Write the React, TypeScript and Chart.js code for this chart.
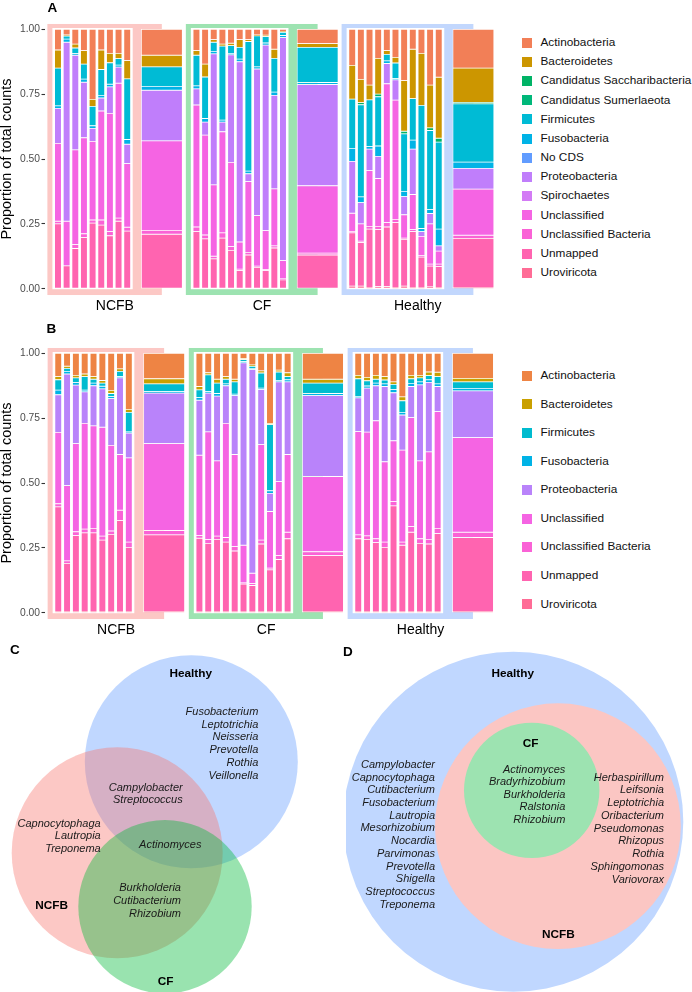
import React, { useEffect, useRef, useState } from 'react';
import { Chart, registerables } from 'chart.js';

Chart.register(...registerables);

const FONT = '"Liberation Sans", Arial, Helvetica, sans-serif';
const PAGE_W = 692;
const PAGE_H = 992;

// ---------------- shared ----------------
const GROUPS = ['NCFB', 'CF', 'Healthy'];
const GROUP_FILLS = ['#FCC8C5', '#9DE3B1', '#C2D7FD'];
const Y_TICKS = [0, 0.25, 0.5, 0.75, 1];
const Y_TITLE = 'Proportion of total counts';

// ---------------- panel A ----------------
// bar order: NCFB samples x9, NCFB pooled, CF samples x11, CF pooled, Healthy samples x11, Healthy pooled
const A_GROUP_SIZES = [9, 11, 11];
const A_PHYLA = [
  'Actinobacteria', 'Bacteroidetes', 'Candidatus Saccharibacteria', 'Candidatus Sumerlaeota',
  'Firmicutes', 'Fusobacteria', 'No CDS', 'Proteobacteria', 'Spirochaetes', 'Unclassified',
  'Unclassified Bacteria', 'Unmapped', 'Uroviricota',
];
const A_COLORS = [
  '#F27F57', '#CC9600', '#00B366', '#00B87A', '#00BBD5', '#00B3E6', '#619CFF',
  '#C07EFB', '#D37BF5', '#F564E3', '#FA62D6', '#FF64B0', '#FF6C96',
];
const A_ACTINOBACTERIA = [0.08, 0.022, 0.057, 0.082, 0.27, 0.08, 0.093, 0.093, 0.121, 0.1,
  0.082, 0.134, 0.04, 0.057, 0.054, 0.04, 0.04, 0.022, 0.023, 0.077, 0.008, 0.055,
  0.139, 0.193, 0.215, 0.112, 0.082, 0.108, 0.198, 0.077, 0.093, 0.215, 0.185, 0.15];
const A_BACTEROIDETES = [0.07, 0.004, 0.015, 0.052, 0.027, 0.075, 0.036, 0.02, 0.07, 0.045,
  0.018, 0.05, 0.01, 0.008, 0.009, 0.03, 0.007, 0.003, 0.005, 0.035, 0.004, 0.015,
  0.13, 0.09, 0.057, 0.138, 0.015, 0.022, 0.195, 0.19, 0.2, 0.165, 0.235, 0.132];
const A_SACCHARIBACTERIA = [0, 0, 0, 0, 0, 0, 0, 0, 0, 0,
  0, 0, 0, 0, 0, 0, 0, 0, 0, 0, 0, 0,
  0, 0.008, 0, 0.01, 0, 0, 0.01, 0, 0, 0.01, 0.015, 0.005];
const A_SUMERLAEOTA = [0, 0, 0, 0, 0, 0, 0, 0, 0, 0,
  0, 0, 0, 0, 0, 0, 0, 0, 0, 0, 0, 0,
  0, 0, 0, 0, 0, 0, 0, 0, 0, 0, 0, 0];
const A_FIRMICUTES = [0.145, 0.012, 0.022, 0.058, 0.075, 0.1, 0.083, 0.025, 0.234, 0.075,
  0.118, 0.16, 0.035, 0.285, 0.03, 0.045, 0.5, 0.12, 0.025, 0.13, 0.012, 0.135,
  0.19, 0.355, 0.18, 0.19, 0.025, 0.06, 0.222, 0.16, 0.475, 0.305, 0.335, 0.225];
const A_FUSOBACTERIA = [0.01, 0.012, 0.006, 0.012, 0.01, 0.01, 0.01, 0.008, 0.018, 0.015,
  0.012, 0.014, 0.01, 0.008, 0.005, 0.01, 0.01, 0.008, 0.008, 0.013, 0.008, 0.008,
  0.05, 0.022, 0.01, 0.04, 0.01, 0.005, 0.02, 0.035, 0.012, 0.015, 0.065, 0.024];
const A_NO_CDS = [0, 0, 0, 0, 0, 0, 0, 0, 0, 0,
  0, 0, 0, 0, 0, 0, 0, 0, 0, 0, 0, 0,
  0, 0, 0, 0, 0, 0, 0, 0, 0, 0, 0, 0];
const A_PROTEOBACTERIA = [0.135, 0.69, 0.365, 0.214, 0.05, 0.05, 0.102, 0.062, 0.075, 0.195,
  0.062, 0.05, 0.505, 0.037, 0.415, 0.695, 0.03, 0.565, 0.715, 0.36, 0.86, 0.39,
  0.2, 0.082, 0.083, 0.085, 0.078, 0.078, 0.07, 0.175, 0.018, 0.04, 0.02, 0.08];
const A_SPIROCHAETES = [0, 0, 0, 0, 0, 0, 0, 0, 0, 0,
  0, 0, 0, 0, 0, 0, 0, 0, 0, 0, 0, 0,
  0, 0, 0, 0, 0, 0, 0, 0, 0, 0, 0, 0];
const A_UNCLASSIFIED = [0.3, 0.172, 0.365, 0.37, 0.303, 0.42, 0.456, 0.52, 0.245, 0.345,
  0.47, 0.385, 0.275, 0.39, 0.325, 0.105, 0.273, 0.195, 0.15, 0.22, 0.07, 0.26,
  0.07, 0.067, 0.215, 0.185, 0.535, 0.46, 0.09, 0.135, 0.075, 0.155, 0.05, 0.178];
const A_UNCLASSIFIED_BACTERIA = [0.01, 0, 0.015, 0.015, 0.012, 0.02, 0.016, 0.012, 0.015, 0.015,
  0.018, 0.015, 0.01, 0.02, 0.014, 0.005, 0.01, 0.005, 0.004, 0.008, 0.004, 0.007,
  0.006, 0.005, 0.01, 0.012, 0.017, 0.012, 0.005, 0.008, 0.005, 0.008, 0.01, 0.012];
const A_UNMAPPED = [0.25, 0.088, 0.155, 0.197, 0.253, 0.245, 0.204, 0.26, 0.222, 0.21,
  0.22, 0.192, 0.115, 0.195, 0.148, 0.07, 0.13, 0.082, 0.07, 0.157, 0.034, 0.13,
  0.205, 0.168, 0.225, 0.22, 0.23, 0.25, 0.18, 0.215, 0.117, 0.08, 0.08, 0.19];
const A_UROVIRICOTA = [0, 0, 0, 0, 0, 0, 0, 0, 0, 0,
  0, 0, 0, 0, 0, 0, 0, 0, 0, 0, 0, 0,
  0.01, 0.01, 0.005, 0.008, 0.008, 0.005, 0.01, 0.005, 0.005, 0.007, 0.005, 0.004];
const A_SERIES = [A_ACTINOBACTERIA, A_BACTEROIDETES, A_SACCHARIBACTERIA, A_SUMERLAEOTA,
  A_FIRMICUTES, A_FUSOBACTERIA, A_NO_CDS, A_PROTEOBACTERIA, A_SPIROCHAETES, A_UNCLASSIFIED,
  A_UNCLASSIFIED_BACTERIA, A_UNMAPPED, A_UROVIRICOTA];

// ---------------- panel B ----------------
// bar order: NCFB x9, NCFB pooled, CF x11, CF pooled, Healthy x10, Healthy pooled
const B_GROUP_SIZES = [9, 11, 10];
const B_PHYLA = ['Actinobacteria', 'Bacteroidetes', 'Firmicutes', 'Fusobacteria', 'Proteobacteria',
  'Unclassified', 'Unclassified Bacteria', 'Unmapped', 'Uroviricota'];
const B_COLORS = ['#EE8444', '#C9A000', '#00BBCF', '#00B3E6', '#B983FA', '#F564E3', '#FA62D6', '#FF64B0', '#FF6C96'];
const B_ACTINOBACTERIA = [0.09, 0.05, 0.085, 0.08, 0.09, 0.105, 0.143, 0.06, 0.216, 0.098,
  0.128, 0.075, 0.1, 0.09, 0.1, 0.02, 0.045, 0.068, 0.27, 0.065, 0.075, 0.1,
  0.085, 0.093, 0.085, 0.09, 0.11, 0.168, 0.085, 0.085, 0.072, 0.073, 0.097];
const B_BACTEROIDETES = [0.012, 0.008, 0.01, 0.01, 0.01, 0.01, 0.012, 0.01, 0.012, 0.02,
  0.013, 0.008, 0.015, 0.01, 0.01, 0.004, 0.005, 0.008, 0.005, 0.007, 0.015, 0.015,
  0.013, 0.013, 0.015, 0.013, 0.01, 0.015, 0.013, 0.01, 0.014, 0.017, 0.013];
const B_FIRMICUTES = [0.04, 0.012, 0.018, 0.052, 0.015, 0.012, 0.012, 0.02, 0.075, 0.03,
  0.03, 0.065, 0.04, 0.018, 0.048, 0.008, 0.008, 0.058, 0.255, 0.033, 0.012, 0.04,
  0.068, 0.02, 0.015, 0.015, 0.02, 0.045, 0.018, 0.015, 0.016, 0.028, 0.025];
const B_FUSOBACTERIA = [0.018, 0.01, 0.01, 0.007, 0.01, 0.01, 0.008, 0.005, 0.005, 0.005,
  0.01, 0.005, 0.01, 0.007, 0.005, 0.005, 0.005, 0.006, 0.01, 0.005, 0.008, 0.008,
  0.006, 0.008, 0.01, 0.01, 0.012, 0.01, 0.012, 0.012, 0.01, 0.01, 0.01];
const B_PROTEOBACTERIA = [0.145, 0.43, 0.225, 0.121, 0.155, 0.148, 0.18, 0.295, 0.095, 0.195,
  0.212, 0.15, 0.25, 0.145, 0.227, 0.703, 0.785, 0.212, 0.07, 0.385, 0.28, 0.312,
  0.13, 0.17, 0.135, 0.29, 0.185, 0.135, 0.12, 0.293, 0.268, 0.097, 0.18];
const B_UNCLASSIFIED = [0.275, 0.29, 0.34, 0.408, 0.395, 0.42, 0.33, 0.215, 0.325, 0.335,
  0.31, 0.415, 0.29, 0.44, 0.355, 0.145, 0.04, 0.368, 0.218, 0.285, 0.3, 0.29,
  0.398, 0.4, 0.455, 0.31, 0.235, 0.355, 0.42, 0.3, 0.337, 0.45, 0.365];
const B_UNCLASSIFIED_BACTERIA = [0.012, 0.01, 0.015, 0.014, 0.017, 0.015, 0.013, 0.04, 0.02, 0.017,
  0.01, 0.015, 0.012, 0.018, 0.017, 0.005, 0.007, 0.015, 0.007, 0.015, 0.025, 0.015,
  0.015, 0.013, 0.015, 0.02, 0.016, 0.012, 0.022, 0.018, 0.018, 0.02, 0.02];
const B_UNMAPPED = [0.403, 0.185, 0.292, 0.303, 0.303, 0.275, 0.297, 0.35, 0.247, 0.296,
  0.282, 0.262, 0.278, 0.267, 0.233, 0.105, 0.1, 0.26, 0.16, 0.2, 0.28, 0.216,
  0.28, 0.278, 0.265, 0.247, 0.407, 0.255, 0.305, 0.262, 0.26, 0.3, 0.286];
const B_UROVIRICOTA = [0.005, 0.005, 0.005, 0.005, 0.005, 0.005, 0.005, 0.005, 0.005, 0.004,
  0.005, 0.005, 0.005, 0.005, 0.005, 0.005, 0.005, 0.005, 0.005, 0.005, 0.005, 0.004,
  0.005, 0.005, 0.005, 0.005, 0.005, 0.005, 0.005, 0.005, 0.005, 0.005, 0.004];
const B_SERIES = [B_ACTINOBACTERIA, B_BACTEROIDETES, B_FIRMICUTES, B_FUSOBACTERIA, B_PROTEOBACTERIA,
  B_UNCLASSIFIED, B_UNCLASSIFIED_BACTERIA, B_UNMAPPED, B_UROVIRICOTA];

// ---------------- panel C (Venn) ----------------
const C_CIRCLES = [
  { set: 'Healthy', x: 191.3, y: 121.8, r: 106.5, fill: 'rgba(97,156,255,0.4)' },
  { set: 'NCFB', x: 117.2, y: 212.8, r: 105.5, fill: 'rgba(248,118,109,0.4)' },
  { set: 'CF', x: 165, y: 266.7, r: 86.7, fill: 'rgba(0,186,56,0.4)' },
];
const C_HEALTHY_ONLY = ['Fusobacterium', 'Leptotrichia', 'Neisseria', 'Prevotella', 'Rothia', 'Veillonella'];
const C_NCFB_HEALTHY = ['Campylobacter', 'Streptococcus'];
const C_NCFB_ONLY = ['Capnocytophaga', 'Lautropia', 'Treponema'];
const C_ALL_THREE = ['Actinomyces'];
const C_NCFB_CF = ['Burkholderia', 'Cutibacterium', 'Rhizobium'];

// ---------------- panel D (Venn) ----------------
const D_CIRCLES = [
  { set: 'Healthy', x: 167.3, y: 181.7, r: 170, fill: '#C0D7FF' },
  { set: 'NCFB', x: 211.9, y: 186.2, r: 122.9, fill: '#FBC6C3' },
  { set: 'CF', x: 185.7, y: 150.4, r: 67.7, fill: '#9DE3B1' },
];
const D_CF = ['Actinomyces', 'Bradyrhizobium', 'Burkholderia', 'Ralstonia', 'Rhizobium'];
const D_HEALTHY_ONLY = ['Campylobacter', 'Capnocytophaga', 'Cutibacterium', 'Fusobacterium', 'Lautropia',
  'Mesorhizobium', 'Nocardia', 'Parvimonas', 'Prevotella', 'Shigella', 'Streptococcus', 'Treponema'];
const D_NCFB_ONLY = ['Herbaspirillum', 'Leifsonia', 'Leptotrichia', 'Oribacterium', 'Pseudomonas',
  'Rhizopus', 'Rothia', 'Sphingomonas', 'Variovorax'];

const VENN_W = 346;
const VENN_H = 352;

// ---------------- helpers ----------------
function Txt({ x, y, text, size, bold = false, italic = false, align = 'left', color = '#000' }: any) {
  const style: any = {
    position: 'absolute',
    top: y - 0.5635 * size,
    fontFamily: FONT,
    fontSize: size,
    lineHeight: `${size * 1.15}px`,
    fontWeight: bold ? 'bold' : 'normal',
    fontStyle: italic ? 'italic' : 'normal',
    color,
    whiteSpace: 'nowrap',
  };
  if (align === 'left') style.left = x;
  else if (align === 'right') style.right = PAGE_W - x;
  else {
    style.left = x;
    style.transform = 'translateX(-50%)';
  }
  return <div style={style}>{text}</div>;
}

function TxtList({ items, x, y, step, align, italic = true, size = 11 }: any) {
  return (
    <>
      {items.map((t: string, i: number) => (
        <Txt key={t + i} x={x} y={y + i * step} text={t} size={size} italic={italic} align={align} color="#1A1A1A" />
      ))}
    </>
  );
}

function Legend({ names, colors, y0, step }: any) {
  return (
    <>
      {names.map((n: string, i: number) => (
        <React.Fragment key={n}>
          <div style={{ position: 'absolute', left: 521.7, top: y0 + i * step - 5, width: 10, height: 10, background: colors[i] }} />
          <Txt x={540.5} y={y0 + i * step} text={n} size={11.8} color="#111" />
        </React.Fragment>
      ))}
    </>
  );
}

function StackedPanel({ top, sizes, phyla, colors, series }: any) {
  const ref = useRef<HTMLCanvasElement | null>(null);
  useEffect(() => {
    const groups: any[] = [];
    const barSlots: number[] = [];
    const barIsPool: boolean[] = [];
    let slot = 1;
    sizes.forEach((n: number, g: number) => {
      const first = slot;
      const last = slot + n - 1;
      const pool = last + 4;
      for (let i = 0; i < n; i++) {
        barSlots.push(first + i);
        barIsPool.push(false);
      }
      barSlots.push(pool);
      barIsPool.push(true);
      groups.push({ first, last, pool, fill: GROUP_FILLS[g], label: GROUPS[g] });
      slot = pool + 4;
    });
    const nSlots = groups[groups.length - 1].pool + 3;
    const labels = Array.from({ length: nSlots }, (_, i) => `slot${i}`);
    const datasets: any[] = [];
    for (let k = phyla.length - 1; k >= 0; k--) {
      const ind: (number | null)[] = new Array(nSlots).fill(null);
      const pooled: (number | null)[] = new Array(nSlots).fill(null);
      series[k].forEach((v: number, j: number) => {
        (barIsPool[j] ? pooled : ind)[barSlots[j]] = v;
      });
      const common = {
        label: phyla[k],
        backgroundColor: colors[k],
        borderColor: '#FFFFFF',
        borderWidth: 0.75,
        borderSkipped: false,
        stack: 'all',
      };
      datasets.push({ ...common, data: ind, barThickness: 6.8 });
      datasets.push({ ...common, data: pooled, barThickness: 41 });
    }
    const POOL_HALF = 20.5;
    const geom = (chart: any, g: any) => {
      const x = chart.scales.x;
      const y = chart.scales.y;
      const xf = x.getPixelForValue(g.first);
      const xl = x.getPixelForValue(g.last);
      const xp = x.getPixelForValue(g.pool);
      const y1 = y.getPixelForValue(1);
      const y0 = y.getPixelForValue(0);
      return { xf, xl, xp, y1, y0, oL: xf - 10.6 };
    };
    const framePlugin = {
      id: 'groupFrames',
      beforeDatasetsDraw(chart: any) {
        const ctx = chart.ctx;
        ctx.save();
        for (const g of groups) {
          const { xl, xp, y1, y0, oL } = geom(chart, g);
          ctx.fillStyle = g.fill;
          ctx.fillRect(oL, y1 - 5.3, xp - oL, y0 + 6.3 - (y1 - 5.3));
          ctx.fillStyle = '#FFFFFF';
          ctx.fillRect(oL + 5, y1 - 1.3, xl + 5.5 - (oL + 5), y0 + 0.5 - (y1 - 1.3));
        }
        ctx.restore();
      },
      afterDraw(chart: any) {
        const ctx = chart.ctx;
        ctx.save();
        ctx.font = `14px ${FONT}`;
        ctx.fillStyle = '#000';
        ctx.textAlign = 'center';
        ctx.textBaseline = 'alphabetic';
        for (const g of groups) {
          const { xp, y0, oL } = geom(chart, g);
          ctx.fillText(g.label, (oL + xp + POOL_HALF) / 2, y0 + 21.3);
        }
        ctx.restore();
      },
    };
    const chart = new Chart(ref.current as HTMLCanvasElement, {
      type: 'bar',
      data: { labels, datasets },
      options: {
        animation: false,
        responsive: true,
        maintainAspectRatio: false,
        events: [],
        layout: { padding: { left: 0, right: 15, top: 21.5, bottom: 23.5 } },
        plugins: { legend: { display: false }, tooltip: { enabled: false } },
        scales: {
          x: { type: 'category', stacked: true, display: false, offset: true },
          y: {
            stacked: true,
            min: -0.03,
            max: 1.03,
            afterBuildTicks: (s: any) => {
              s.ticks = Y_TICKS.map((v) => ({ value: v }));
            },
            afterFit: (s: any) => {
              s.width = 45;
            },
            ticks: {
              callback: (v: any) => Number(v).toFixed(2),
              font: { family: FONT, size: 10.3 },
              color: '#4D4D4D',
              padding: 1.5,
            },
            grid: { drawOnChartArea: false, drawTicks: true, tickLength: 3.5, tickColor: '#333333', tickWidth: 1.1 },
            border: { display: false },
            title: { display: true, text: Y_TITLE, font: { family: FONT, size: 14.5, lineHeight: 1 }, color: '#000', padding: 0 },
          },
        },
      } as any,
      plugins: [framePlugin as any],
    });
    return () => chart.destroy();
  }, []);
  return (
    <div style={{ position: 'absolute', left: 0, top, width: 510, height: 320 }}>
      <canvas ref={ref} />
    </div>
  );
}

function VennPanel({ left, circles }: any) {
  const ref = useRef<HTMLCanvasElement | null>(null);
  const [err, setErr] = useState('');
  useEffect(() => {
    let chart: any = null;
    try {
      // one (invisible) anchor point per set; the disc is drawn from it through the scales
      const datasets = circles.map((c: any) => ({
        label: c.set,
        data: [{ x: c.x, y: c.y }],
        pointRadius: 0,
        pointHoverRadius: 0,
        backgroundColor: c.fill,
      }));
      const discPlugin = {
        id: 'vennDiscs',
        beforeDatasetsDraw(ch: any) {
          const ctx = ch.ctx;
          const sx = ch.scales.x;
          const sy = ch.scales.y;
          ctx.save();
          circles.forEach((c: any) => {
            const px = sx.getPixelForValue(c.x);
            const py = sy.getPixelForValue(c.y);
            const pr = Math.abs(sx.getPixelForValue(c.x + c.r) - px);
            ctx.beginPath();
            ctx.arc(px, py, pr, 0, Math.PI * 2);
            ctx.closePath();
            ctx.fillStyle = c.fill;
            ctx.fill();
          });
          ctx.restore();
        },
      };
      chart = new Chart(ref.current as HTMLCanvasElement, {
        type: 'scatter',
        data: { datasets },
        options: {
          animation: false,
          responsive: true,
          maintainAspectRatio: false,
          events: [],
          layout: { padding: 0 },
          plugins: { legend: { display: false }, tooltip: { enabled: false } },
          scales: {
            x: { type: 'linear', min: 0, max: VENN_W, display: false },
            y: { type: 'linear', min: 0, max: VENN_H, reverse: true, display: false },
          },
        } as any,
        plugins: [discPlugin as any],
      });
    } catch (e: any) {
      setErr(String(e && e.message));
    }
    return () => {
      if (chart) chart.destroy();
    };
  }, []);
  return (
    <div style={{ position: 'absolute', left, top: 640, width: VENN_W, height: VENN_H }}>
      <canvas ref={ref} />
      {err ? <div style={{ position: 'absolute', left: 0, top: 0, fontSize: 10, color: 'red' }}>{err}</div> : null}
    </div>
  );
}

export default function App() {
  return (
    <div style={{ position: 'absolute', left: 0, top: 0, width: PAGE_W, height: PAGE_H, background: '#fff', overflow: 'hidden' }}>
      <StackedPanel top={0} sizes={A_GROUP_SIZES} phyla={A_PHYLA} colors={A_COLORS} series={A_SERIES} />
      <StackedPanel top={324} sizes={B_GROUP_SIZES} phyla={B_PHYLA} colors={B_COLORS} series={B_SERIES} />
      <Legend names={A_PHYLA} colors={A_COLORS} y0={42.7} step={19.17} />
      <Legend names={B_PHYLA} colors={B_COLORS} y0={375.7} step={28.57} />
      <Txt x={47.5} y={7.5} text="A" size={13.5} bold />
      <Txt x={46.5} y={328.3} text="B" size={13.5} bold />

      <VennPanel left={0} circles={C_CIRCLES} />
      <VennPanel left={346} circles={D_CIRCLES} />
      <Txt x={10} y={650} text="C" size={13.5} bold />
      <Txt x={343} y={651.5} text="D" size={13.5} bold />

      {/* Venn C labels */}
      <Txt x={190.7} y={674} text="Healthy" size={11.8} bold align="center" />
      <Txt x={51.7} y={905.7} text="NCFB" size={11.8} bold align="center" />
      <Txt x={165.7} y={981.7} text="CF" size={11.8} bold align="center" />
      <TxtList items={C_HEALTHY_ONLY} x={258.3} y={711} step={12.8} align="right" />
      <TxtList items={C_NCFB_HEALTHY} x={182.7} y={786.7} step={12.8} align="right" />
      <TxtList items={C_NCFB_ONLY} x={100.7} y={822.7} step={12.7} align="right" />
      <TxtList items={C_ALL_THREE} x={170.3} y={844} step={12.7} align="center" />
      <TxtList items={C_NCFB_CF} x={181} y={887.3} step={12.8} align="right" />

      {/* Venn D labels */}
      <Txt x={512.7} y={673.3} text="Healthy" size={11.8} bold align="center" />
      <Txt x={530.7} y={744} text="CF" size={11.8} bold align="center" />
      <Txt x={558.3} y={935} text="NCFB" size={11.8} bold align="center" />
      <TxtList items={D_CF} x={565.3} y={768.7} step={12.65} align="right" />
      <TxtList items={D_HEALTHY_ONLY} x={435} y={764} step={12.73} align="right" />
      <TxtList items={D_NCFB_ONLY} x={664} y={776.7} step={12.75} align="right" />
    </div>
  );
}
